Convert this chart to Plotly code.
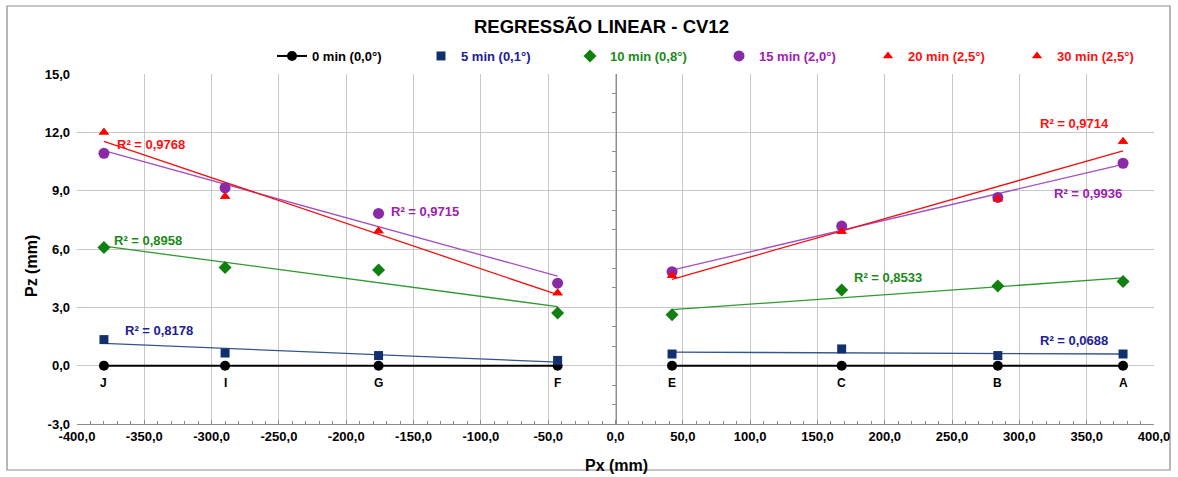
import numpy as np
import plotly.graph_objects as go

# Measuring points along the beam and their horizontal positions (mm)
points = ["J", "I", "G", "F", "E", "C", "B", "A"]
px_mm = [-380, -290, -176, -43, 42, 168, 284, 377]

# Vertical displacement Pz (mm) for each load time
pz_0min = [0.0, 0.0, 0.0, 0.0, 0.0, 0.0, 0.0, 0.0]
pz_5min = [1.34, 0.65, 0.52, 0.27, 0.60, 0.86, 0.52, 0.60]
pz_10min = [6.08, 5.05, 4.92, 2.71, 2.62, 3.89, 4.10, 4.33]
pz_15min = [10.92, 9.15, 7.83, 4.24, 4.83, 7.18, 8.65, 10.41]
pz_20min = [12.00, 8.70, 6.93, 3.74, 4.64, 6.90, 8.57, 11.53]
pz_30min = [12.00, 8.70, 6.93, 3.74, 4.64, 6.90, 8.57, 11.53]

series_names = ["0 min (0,0°)", "5 min (0,1°)", "10 min (0,8°)",
                "15 min (2,0°)", "20 min (2,5°)", "30 min (2,5°)"]

# Coefficients of determination of the linear fits (left side, right side)
r2_5min = ["0,8178", "0,0688"]
r2_10min = ["0,8958", "0,8533"]
r2_15min = ["0,9715", "0,9936"]
r2_20min = ["0,9768", "0,9714"]

x_ticks = list(range(-400, 401, 50))
y_ticks = list(range(-3, 16, 3))

FONT = "Liberation Sans"
W, H = 1178, 477
ML, MR, MT, MB = 77, 24, 74, 53

fig = go.Figure()

left = slice(0, 4)
right = slice(4, 8)


def fmt(v):
    return f"{v:.1f}".replace(".", ",")


def trend(xs, ys, color):
    xs = np.array(xs, dtype=float)
    ys = np.array(ys, dtype=float)
    k, b = np.polyfit(xs, ys, 1)
    xe = np.array([xs.min(), xs.max()])
    fig.add_trace(go.Scatter(x=xe, y=k * xe + b, mode="lines",
                             line=dict(color=color, width=1.3),
                             showlegend=False, hoverinfo="skip"))


# Trend lines, one per side of the support
trend_specs = [
    (pz_5min, "#34558f"),
    (pz_10min, "#2f9a2f"),
    (pz_15min, "#a44fc0"),
    (pz_20min, "#f01010"),
]
for ys, col in trend_specs:
    trend(px_mm[left], ys[left], col)
    trend(px_mm[right], ys[right], col)

# Reference series at zero, broken at the centre support
x0 = px_mm[left] + [None] + px_mm[right]
y0 = pz_0min[left] + [None] + pz_0min[right]

fig.add_trace(go.Scatter(
    x=x0, y=y0, mode="lines+markers", name=series_names[0],
    line=dict(color="#000000", width=2), connectgaps=False,
    marker=dict(symbol="circle", size=10, color="#000000"),
))

marker_specs = [
    (pz_5min, series_names[1], "square", 9, "#13306e", "#202098"),
    (pz_10min, series_names[2], "diamond", 10, "#108010", "#1a8a1a"),
    (pz_15min, series_names[3], "circle", 11, "#8a2aa6", "#a020b0"),
    (pz_20min, series_names[4], "triangle-up", 9, "#ff0000", "#ff1010"),
    (pz_30min, series_names[5], "triangle-up", 9, "#ff0000", "#ff1010"),
]
for ys, nm, sym, sz, col, tcol in marker_specs:
    fig.add_trace(go.Scatter(
        x=px_mm, y=ys, mode="markers",
        name=f"<span style='color:{tcol}'>{nm}</span>",
        marker=dict(symbol=sym, size=sz, color=col),
    ))

# Invisible trace so the central vertical axis is drawn
fig.add_trace(go.Scatter(x=[None], y=[None], yaxis="y2", showlegend=False,
                         hoverinfo="skip"))

annotations = []

# Point names under the zero series
for nm, xv, yv in zip(points, px_mm, pz_0min):
    annotations.append(dict(
        x=xv, y=yv, xref="x", yref="y", text=nm, showarrow=False,
        xanchor="center", yanchor="middle", yshift=-17,
        font=dict(family=FONT, size=12, color="#000000", weight="bold"),
    ))

# R² labels (x = start of text, y = middle)
r2_labels = [
    (r2_20min[0], -372, 11.35, "#ff1010"),
    (r2_15min[0], -168.5, 7.92, "#a020b0"),
    (r2_10min[0], -374, 6.43, "#1a8a1a"),
    (r2_5min[0], -366, 1.80, "#202098"),
    (r2_20min[1], 313.5, 12.44, "#ff1010"),
    (r2_15min[1], 324.5, 8.87, "#a020b0"),
    (r2_10min[1], 176, 4.55, "#1a8a1a"),
    (r2_5min[1], 313.5, 1.31, "#202098"),
]
for txt, ax, ay, col in r2_labels:
    annotations.append(dict(
        x=ax, y=ay, xref="x", yref="y", text=f"R² = {txt}",
        showarrow=False, xanchor="left", yanchor="middle",
        font=dict(family=FONT, size=13, color=col, weight="bold"),
    ))

pw = W - ML - MR
ph = H - MT - MB


def paper_x(p):
    return (p - ML) / pw


def paper_y(p):
    return 1 - (p - MT) / ph


annotations += [
    dict(text="REGRESSÃO LINEAR - CV12", x=paper_x(601), y=paper_y(27),
         xref="paper", yref="paper", showarrow=False,
         xanchor="center", yanchor="middle",
         font=dict(family=FONT, size=18.5, color="#000000", weight="bold")),
    dict(text="Px (mm)", x=paper_x(616), y=paper_y(465),
         xref="paper", yref="paper", showarrow=False,
         xanchor="center", yanchor="middle",
         font=dict(family=FONT, size=16, color="#000000", weight="bold")),
    dict(text="Pz (mm)", x=paper_x(31), y=paper_y(266),
         xref="paper", yref="paper", showarrow=False, textangle=-90,
         xanchor="center", yanchor="middle",
         font=dict(family=FONT, size=16, color="#000000", weight="bold")),
]

# Chart border
shapes = [dict(type="rect", xref="paper", yref="paper",
               x0=paper_x(7), x1=paper_x(1170), y0=paper_y(470), y1=paper_y(6),
               line=dict(color="#8a8a8a", width=1.2), fillcolor="rgba(0,0,0,0)",
               layer="below")]

axis_gray = "#8c8c8c"
grid_gray = "#c8c8c8"
tick_font = dict(family=FONT, size=13, color="#000000", weight="bold")

fig.update_layout(
    width=W, height=H,
    margin=dict(l=ML, r=MR, t=MT, b=MB, autoexpand=False),
    paper_bgcolor="#ffffff", plot_bgcolor="#ffffff",
    font=dict(family=FONT),
    showlegend=True,
    legend=dict(
        orientation="h", x=paper_x(272), y=paper_y(56),
        xanchor="left", yanchor="middle",
        entrywidthmode="pixels", entrywidth=104,
        font=dict(family=FONT, size=13, color="#000000", weight="bold"),
        bgcolor="rgba(0,0,0,0)", traceorder="normal",
    ),
    xaxis=dict(
        range=[-400, 400], tickvals=x_ticks, ticktext=[fmt(v) for v in x_ticks],
        showgrid=True, gridcolor=grid_gray, gridwidth=1, zeroline=False,
        showline=True, linecolor=axis_gray, linewidth=1,
        ticks="inside", ticklen=4, tickcolor=axis_gray,
        minor=dict(ticks="inside", dtick=10, ticklen=3, tickcolor=axis_gray),
        tickfont=tick_font,
    ),
    yaxis=dict(
        range=[-3, 15], tickvals=y_ticks, ticktext=[fmt(v) for v in y_ticks],
        showgrid=True, gridcolor=grid_gray, gridwidth=1, zeroline=False,
        showline=False, ticks="", ticklabelstandoff=6,
        tickfont=tick_font,
    ),
    yaxis2=dict(
        overlaying="y", anchor="free", position=0.5, range=[-3, 15],
        showline=True, linecolor=axis_gray, linewidth=1,
        showgrid=False, zeroline=False, showticklabels=False,
        tick0=0, dtick=3, ticks="",
        minor=dict(ticks="outside", dtick=1, ticklen=4, tickcolor=axis_gray),
    ),
    annotations=annotations,
    shapes=shapes,
)

fig.write_html("out.html")
